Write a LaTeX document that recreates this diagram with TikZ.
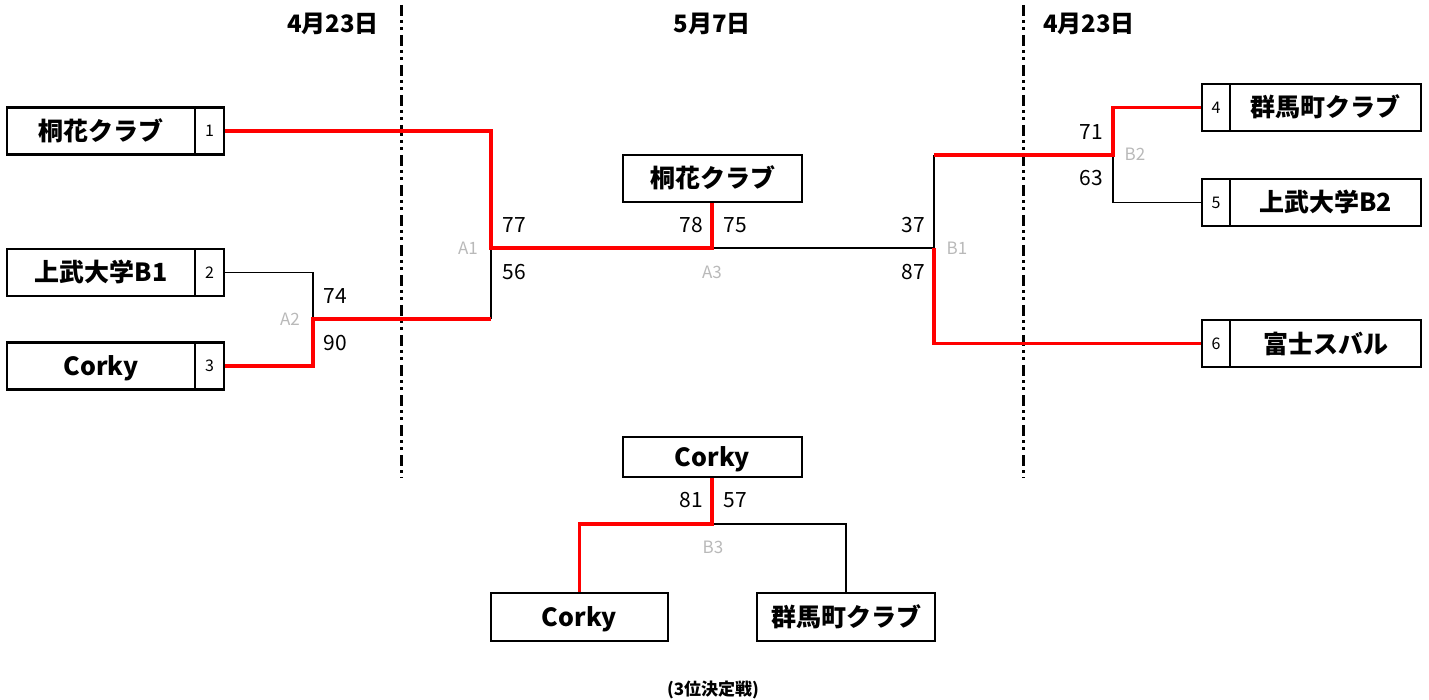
\documentclass[tikz,border=0pt]{standalone}
\usepackage{fontspec}
\setmainfont{Noto Sans CJK JP}
\definecolor{winred}{RGB}{255,0,0}
\definecolor{lblgray}{RGB}{185,185,185}
\tikzset{
  cellbox/.style={draw, line width=2.2pt, inner sep=0pt, minimum height=47pt},
  namebox/.style={cellbox, text height=21pt, text depth=2pt, font=\fontsize{25}{25}\selectfont\bfseries},
  numbox/.style={cellbox, minimum width=28.5pt, font=\fontsize{16}{16}\selectfont},
  score/.style={inner sep=0pt, font=\fontsize{21}{21}\selectfont},
  gamelbl/.style={inner sep=0pt, text=lblgray, font=\fontsize{17}{17}\selectfont},
  datelbl/.style={inner sep=0pt, font=\fontsize{24}{24}\selectfont\bfseries},
  loseline/.style={line width=1.8pt, black},
  winline/.style={line width=3.4pt, winred},
  divider/.style={line width=3pt, dash pattern=on 11pt off 4pt on 3pt off 4pt on 3pt off 5pt}
}
\begin{document}
\begin{tikzpicture}[x=1pt,y=-1pt]
\useasboundingbox (0,0) rectangle (1429,700);

% dividers
\coordinate (dlt) at (401,5);
\coordinate (dlb) at (401,478);
\coordinate (drt) at (1023,5);
\coordinate (drb) at (1023,478);
\draw[divider] (dlt) -- (dlb);
\draw[divider] (drt) -- (drb);

% dates
\node[datelbl] (d1) at (333,24) {4月23日};
\node[datelbl] (d2) at (712,24) {5月7日};
\node[datelbl] (d3) at (1089,24) {4月23日};

% left teams
\node[namebox, minimum width=188pt] (t1) at (101,131) {桐花クラブ};
\node[numbox] (n1) at (209.5,131) {1};
\node[namebox, minimum width=188pt] (t2) at (101,272.5) {上武大学B1};
\node[numbox] (n2) at (209.5,272.5) {2};
\node[namebox, minimum width=188pt] (t3) at (101,366) {Corky};
\node[numbox] (n3) at (209.5,366) {3};

% right teams
\node[numbox] (n4) at (1216,107.5) {4};
\node[namebox, minimum width=191pt] (t4) at (1325.5,107.5) {群馬町クラブ};
\node[numbox] (n5) at (1216,202.5) {5};
\node[namebox, minimum width=191pt] (t5) at (1325.5,202.5) {上武大学B2};
\node[numbox] (n6) at (1216,343.5) {6};
\node[namebox, minimum width=191pt] (t6) at (1325.5,343.5) {富士スバル};

% champion
\node[namebox, minimum width=179pt] (champ) at (712.5,178.5) {桐花クラブ};

% third place
\node[namebox, minimum width=179pt, minimum height=40pt] (third) at (712.5,457) {Corky};
\node[namebox, minimum width=177pt, minimum height=48pt] (bl) at (579.5,617) {Corky};
\node[namebox, minimum width=178pt, minimum height=48pt] (br) at (846,617) {群馬町クラブ};

% junctions
\coordinate (A2) at (313,319);
\coordinate (A1) at (491,248);
\coordinate (A3) at (712,248);
\coordinate (B1) at (934,248);
\coordinate (B2) at (1113,155);
\coordinate (B3) at (712,524);

% losing paths
\draw[loseline] (n2.east) -| (A2);
\draw[loseline] (A2 -| A1) -- (A1);
\draw[loseline] (A3) -- (B1) -- (B1 |- B2);
\draw[loseline] (B2) |- (n5.west);
\draw[loseline] (B3) -| (br.north);

% winning paths
\draw[winline] (n1.east) -| (A1) -- (A3) -- (A3 |- champ.south);
\draw[winline] (n3.east) -| (A2) -- (A2 -| A1);
\draw[winline] (B1 |- B2) -- (B2) |- (n4.west);
\draw[winline] (B1) |- (n6.west);
\draw[winline] (B3 |- third.south) -- (B3) -| (bl.north);

% scores
\node[score] (s74) at (335,296) {74};
\node[score] (s90) at (335,343) {90};
\node[score] (s77) at (514,225) {77};
\node[score] (s56) at (514,272) {56};
\node[score] (s78) at (691,225) {78};
\node[score] (s75) at (735,225) {75};
\node[score] (s37) at (913,225) {37};
\node[score] (s87) at (913,272) {87};
\node[score] (s71) at (1091,132) {71};
\node[score] (s63) at (1091,178) {63};
\node[score] (s81) at (691,500) {81};
\node[score] (s57) at (735,500) {57};

% game labels
\node[gamelbl] (lA2) at (290,319) {A2};
\node[gamelbl] (lA1) at (468,248) {A1};
\node[gamelbl] (lA3) at (712,272) {A3};
\node[gamelbl] (lB1) at (957,248) {B1};
\node[gamelbl] (lB2) at (1135,154) {B2};
\node[gamelbl] (lB3) at (713,547) {B3};

% caption
\node[inner sep=0pt, font=\fontsize{17}{17}\selectfont\bfseries] (cap) at (713,690) {(3位決定戦)};
\end{tikzpicture}
\end{document}
